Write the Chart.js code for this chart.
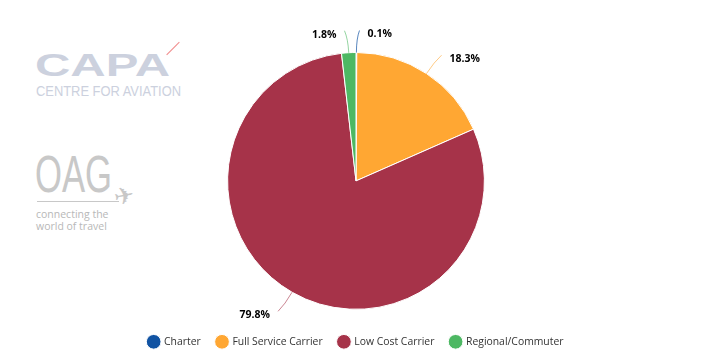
<!DOCTYPE html>
<html>
<head>
<meta charset="utf-8">
<script src="https://cdn.jsdelivr.net/npm/chart.js@4.4.0/dist/chart.umd.min.js"></script>
<style>
  html, body { margin: 0; padding: 0; background: #fff; }
  #wrap { position: relative; width: 712px; height: 361px; }
  .logo { position: absolute; white-space: nowrap; line-height: 1; }
  #capa { left: 35px; top: 50px; font-family: "Liberation Sans", sans-serif; font-weight: bold; font-size: 31px; color: #ccd1de; transform: scaleX(1.58); transform-origin: left top; }
  #capaSub { left: 36px; top: 83px; font-family: "Liberation Sans", sans-serif; font-size: 15px; color: #ccd1de; transform: scaleX(0.86); transform-origin: left top; }
  #capaArrow { left: 164px; top: 48px; width: 18px; height: 1px; background: #f08a8a; transform: rotate(-45deg); }
  #oag { left: 35px; top: 149px; font-family: "Liberation Sans", sans-serif; font-size: 51px; color: #c8c8c8; transform: scaleX(0.68); transform-origin: left top; }
  #oagLine { left: 37px; top: 201px; width: 82px; height: 1px; background: #c8c8c8; }
  #plane { left: 114px; top: 184px; font-family: "DejaVu Sans", sans-serif; font-size: 24px; color: #c8c8c8; transform: rotate(-12deg); }
  #oagSub { left: 36px; top: 208px; font-family: "Open Sans", sans-serif; font-size: 10.5px; line-height: 12px; color: #b8b8b8; }
  canvas { position: absolute; left: 0; top: 0; }
</style>
</head>
<body>
<div id="wrap">
  <div class="logo" id="capa">CAPA</div>
  <div class="logo" id="capaArrow"></div>
  <div class="logo" id="capaSub">CENTRE FOR AVIATION</div>
  <div class="logo" id="oag">OAG</div>
  <div class="logo" id="oagLine"></div>
  <div class="logo" id="plane">✈</div>
  <div class="logo" id="oagSub">connecting the<br>world of travel</div>
  <canvas id="pieChart" width="712" height="361"></canvas>
</div>
<script>
const categories = ['Charter', 'Full Service Carrier', 'Low Cost Carrier', 'Regional/Commuter'];
const shares = [0.1, 18.3, 79.8, 1.8];
const colors = ['#1153a3', '#ffa733', '#a63349', '#4db863'];
const lineColors = ['rgba(17,83,163,0.7)', 'rgba(255,167,51,0.6)', 'rgba(166,51,73,0.6)', 'rgba(77,184,99,0.6)'];

// labels with curved connectors, outside the pie
const outsideLabels = {
    id: 'outsideLabels',
    afterDatasetsDraw(chart) {
        const ctx = chart.ctx;
        const meta = chart.getDatasetMeta(0);
        meta.data.forEach((arc, i) => {
            const p = arc.getProps(['x', 'y', 'startAngle', 'endAngle', 'outerRadius'], true);
            const a = (p.startAngle + p.endAngle) / 2;
            const dx = Math.cos(a), dy = Math.sin(a);
            const side = dx >= 0 ? 1 : -1;
            const r = p.outerRadius;
            const x0 = p.x + dx * r, y0 = p.y + dy * r;
            const cx = p.x + dx * (r + 14), cy = p.y + dy * (r + 14);
            const x1 = p.x + dx * (r + 22) + side * 3, y1 = p.y + dy * (r + 22);
            ctx.save();
            ctx.strokeStyle = lineColors[i];
            ctx.lineWidth = 1;
            ctx.beginPath();
            ctx.moveTo(x0, y0);
            ctx.quadraticCurveTo(cx, cy, x1, y1);
            ctx.stroke();
            ctx.font = 'bold 10.5px "Open Sans", sans-serif';
            ctx.fillStyle = '#000';
            ctx.textAlign = side > 0 ? 'left' : 'right';
            ctx.textBaseline = 'middle';
            ctx.fillText(shares[i] + '%', x1 + side * 8, y1 + 4);
            ctx.restore();
        });
    }
};

const ctxPie = document.getElementById('pieChart').getContext('2d');
new Chart(ctxPie, {
    type: 'pie',
    data: {
        labels: categories,
        datasets: [{
            data: shares,
            backgroundColor: colors,
            borderColor: '#ffffff',
            borderWidth: 1
        }]
    },
    options: {
        responsive: false,
        animation: false,
        layout: { padding: { top: 52, bottom: 4 } },
        plugins: {
            legend: {
                position: 'bottom',
                title: { display: true, text: ' ', padding: 0, font: { size: 9 } },
                labels: {
                    usePointStyle: true,
                    pointStyle: 'circle',
                    boxWidth: 12,
                    boxHeight: 12,
                    padding: 16,
                    color: '#333',
                    font: { family: '"Open Sans", sans-serif', size: 10.4 }
                }
            },
            tooltip: { enabled: false }
        }
    },
    plugins: [outsideLabels]
});
</script>
</body>
</html>
